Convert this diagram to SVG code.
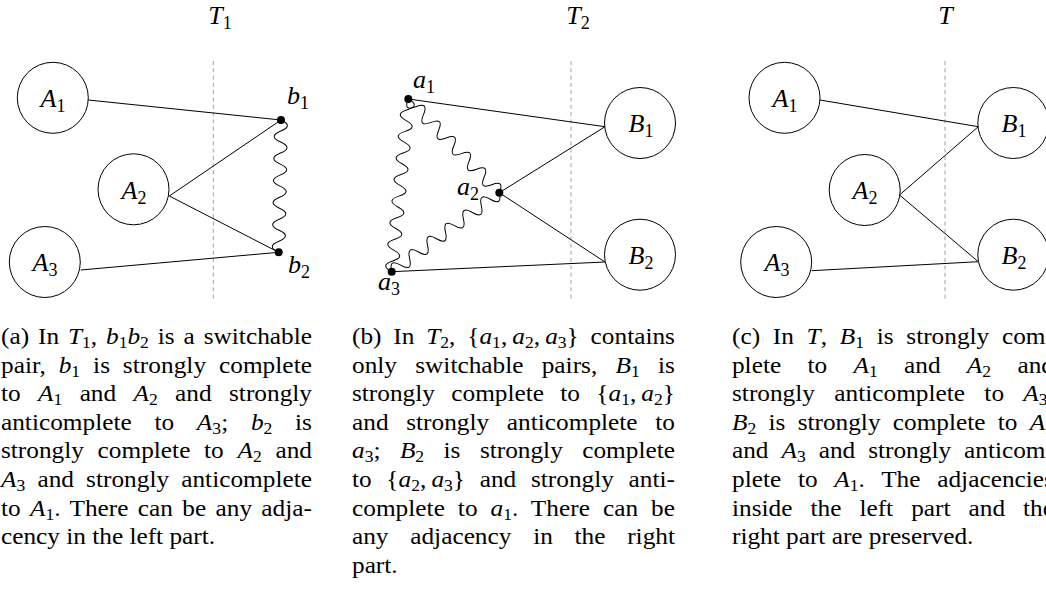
<svg xmlns="http://www.w3.org/2000/svg" width="1046" height="590" viewBox="0 0 1046 590">
<style>
.cap{font-family:"Liberation Serif",serif;font-size:23px;fill:#000}
.i{font-style:italic}
.s{font-size:16px;font-style:normal}
.lbl{font-family:"Liberation Serif",serif;font-size:26px;fill:#000}
.lbl .s{font-size:18px}
.mid{text-anchor:middle}
.node{fill:#fff;stroke:#000;stroke-width:1}
.e{stroke:#000;stroke-width:1;fill:none}
.dash{stroke:#a0a0a0;stroke-width:1;stroke-dasharray:4 3.3;fill:none}
.dot{fill:#000}
</style>
<rect width="1046" height="590" fill="#fff"/>

<!-- titles -->
<text class="lbl mid" x="220" y="24"><tspan class="i">T</tspan><tspan class="s" dy="5">1</tspan></text>
<text class="lbl mid" x="578" y="24"><tspan class="i">T</tspan><tspan class="s" dy="5">2</tspan></text>
<text class="lbl mid" x="945.5" y="24"><tspan class="i">T</tspan></text>

<!-- dashed separators -->
<g id="separators">
<line class="dash" x1="213.3" y1="61" x2="213.3" y2="300"/>
<line class="dash" x1="571" y1="61" x2="571" y2="300"/>
<line class="dash" x1="945" y1="61" x2="945" y2="300"/>
</g>

<g id="connectors">
<!-- (a) -->
<line class="e" x1="88.3" y1="100" x2="281" y2="120"/>
<line class="e" x1="169.3" y1="196" x2="281" y2="120"/>
<line class="e" x1="169.3" y1="196" x2="278.7" y2="252.3"/>
<line class="e" x1="80.7" y1="270" x2="278.7" y2="252.3"/>
<path class="e" transform="translate(281,120) rotate(91)" d="M0,0 Q5.51,-13 11.03,0 T22.05,0 T33.08,0 T44.1,0 T55.13,0 T66.15,0 T77.18,0 T88.2,0 T99.23,0 T110.25,0 T121.28,0 T132.3,0"/>
<!-- (b) -->
<line class="e" x1="408.3" y1="99" x2="605" y2="126.7"/>
<line class="e" x1="499.3" y1="192.7" x2="605" y2="126.7"/>
<line class="e" x1="499.3" y1="192.7" x2="605" y2="262"/>
<line class="e" x1="391.7" y1="271.7" x2="605" y2="262"/>
<path class="e" transform="translate(408.3,99) rotate(95.5)" d="M0,0 Q5.42,-13 10.84,0 T21.69,0 T32.53,0 T43.38,0 T54.22,0 T65.06,0 T75.91,0 T86.75,0 T97.59,0 T108.44,0 T119.28,0 T130.13,0 T140.97,0 T151.81,0 T162.66,0 T173.5,0"/>
<path class="e" transform="translate(408.3,99) rotate(45.8)" d="M0,0 Q5.44,13 10.88,0 T21.77,0 T32.65,0 T43.53,0 T54.42,0 T65.3,0 T76.18,0 T87.07,0 T97.95,0 T108.83,0 T119.72,0 T130.6,0"/>
<path class="e" transform="translate(499.3,192.7) rotate(143.7)" d="M0,0 Q5.56,-13 11.13,0 T22.25,0 T33.38,0 T44.5,0 T55.63,0 T66.75,0 T77.88,0 T89,0 T100.13,0 T111.25,0 T122.38,0 T133.5,0"/>
<!-- (c) -->
<line class="e" x1="820" y1="100" x2="978.3" y2="126.7"/>
<line class="e" x1="899.5" y1="195" x2="978.3" y2="126.7"/>
<line class="e" x1="899.5" y1="195" x2="978.3" y2="261.7"/>
<line class="e" x1="811.7" y1="270.7" x2="978.3" y2="261.7"/>
</g>

<!-- (a) nodes -->
<g id="a-A1"><circle class="node" cx="52.8" cy="97.8" r="35.5"/><text class="lbl mid" x="53" y="107"><tspan class="i">A</tspan><tspan class="s" dy="5">1</tspan></text></g>
<g id="a-A2"><circle class="node" cx="133.5" cy="189.3" r="35.5"/><text class="lbl mid" x="134" y="198.5"><tspan class="i">A</tspan><tspan class="s" dy="5">2</tspan></text></g>
<g id="a-A3"><circle class="node" cx="44.8" cy="262" r="35.5"/><text class="lbl mid" x="45" y="271"><tspan class="i">A</tspan><tspan class="s" dy="5">3</tspan></text></g>
<g id="a-b1"><circle class="dot" cx="281" cy="120" r="4"/><text class="lbl" x="287" y="104"><tspan class="i">b</tspan><tspan class="s" dy="5">1</tspan></text></g>
<g id="a-b2"><circle class="dot" cx="278.7" cy="252.3" r="4"/><text class="lbl" x="288" y="273"><tspan class="i">b</tspan><tspan class="s" dy="5">2</tspan></text></g>

<!-- (b) nodes -->
<g id="b-a1"><circle class="dot" cx="408.3" cy="99" r="4"/><text class="lbl" x="413" y="88"><tspan class="i">a</tspan><tspan class="s" dy="5">1</tspan></text></g>
<g id="b-a2"><circle class="dot" cx="499.3" cy="192.7" r="4"/><text class="lbl" x="457" y="195"><tspan class="i">a</tspan><tspan class="s" dy="5">2</tspan></text></g>
<g id="b-a3"><circle class="dot" cx="391.7" cy="271.7" r="4"/><text class="lbl" x="378" y="290"><tspan class="i">a</tspan><tspan class="s" dy="5">3</tspan></text></g>
<g id="b-B1"><circle class="node" cx="640" cy="123" r="35.5"/><text class="lbl mid" x="641" y="132"><tspan class="i">B</tspan><tspan class="s" dy="5">1</tspan></text></g>
<g id="b-B2"><circle class="node" cx="640" cy="254.7" r="35.5"/><text class="lbl mid" x="641" y="264"><tspan class="i">B</tspan><tspan class="s" dy="5">2</tspan></text></g>

<!-- (c) nodes -->
<g id="c-A1"><circle class="node" cx="784.5" cy="97.8" r="35.5"/><text class="lbl mid" x="785" y="107"><tspan class="i">A</tspan><tspan class="s" dy="5">1</tspan></text></g>
<g id="c-A2"><circle class="node" cx="864.7" cy="190" r="35.5"/><text class="lbl mid" x="865" y="199"><tspan class="i">A</tspan><tspan class="s" dy="5">2</tspan></text></g>
<g id="c-A3"><circle class="node" cx="776.2" cy="262" r="35.5"/><text class="lbl mid" x="777" y="271"><tspan class="i">A</tspan><tspan class="s" dy="5">3</tspan></text></g>
<g id="c-B1"><circle class="node" cx="1013.3" cy="123" r="35.5"/><text class="lbl mid" x="1014" y="132"><tspan class="i">B</tspan><tspan class="s" dy="5">1</tspan></text></g>
<g id="c-B2"><circle class="node" cx="1013.3" cy="254.7" r="35.5"/><text class="lbl mid" x="1014" y="264"><tspan class="i">B</tspan><tspan class="s" dy="5">2</tspan></text></g>

<!-- caption (a) -->
<g id="caption-a" class="cap" transform="scale(1.1,1)">
<text x="0.9" y="344" textLength="282.7" lengthAdjust="spacing" style="word-spacing:2.3px">(a) In <tspan class="i">T</tspan><tspan class="s" dy="4">1</tspan><tspan dy="-4">, </tspan><tspan class="i">b</tspan><tspan class="s" dy="4">1</tspan><tspan class="i" dy="-4">b</tspan><tspan class="s" dy="4">2</tspan><tspan dy="-4"> is a switchable</tspan></text>
<text x="0.9" y="372.6" textLength="282.7" lengthAdjust="spacing" style="word-spacing:5.9px">pair, <tspan class="i">b</tspan><tspan class="s" dy="4">1</tspan><tspan dy="-4"> is strongly complete</tspan></text>
<text x="0.9" y="401.2" textLength="282.7" lengthAdjust="spacing" style="word-spacing:10px">to <tspan class="i">A</tspan><tspan class="s" dy="4">1</tspan><tspan dy="-4"> and </tspan><tspan class="i">A</tspan><tspan class="s" dy="4">2</tspan><tspan dy="-4"> and strongly</tspan></text>
<text x="0.9" y="429.8" textLength="282.7" lengthAdjust="spacing" style="word-spacing:14.9px">anticomplete to <tspan class="i">A</tspan><tspan class="s" dy="4">3</tspan><tspan dy="-4">; </tspan><tspan class="i">b</tspan><tspan class="s" dy="4">2</tspan><tspan dy="-4"> is</tspan></text>
<text x="0.9" y="458.4" textLength="282.7" lengthAdjust="spacing" style="word-spacing:6.7px">strongly complete to <tspan class="i">A</tspan><tspan class="s" dy="4">2</tspan><tspan dy="-4"> and</tspan></text>
<text x="0.9" y="487" textLength="282.7" lengthAdjust="spacing" style="word-spacing:5.3px"><tspan class="i">A</tspan><tspan class="s" dy="4">3</tspan><tspan dy="-4"> and strongly anticomplete</tspan></text>
<text x="0.9" y="515.6" textLength="282.7" lengthAdjust="spacing" style="word-spacing:2.7px">to <tspan class="i">A</tspan><tspan class="s" dy="4">1</tspan><tspan dy="-4">. There can be any adja-</tspan></text>
<text x="0.9" y="544.2">cency in the left part.</text>
</g>

<!-- caption (b) -->
<g id="caption-b" class="cap" transform="scale(1.1,1)">
<text x="320" y="344" textLength="293.6" lengthAdjust="spacing" style="word-spacing:5px">(b) In <tspan class="i">T</tspan><tspan class="s" dy="4">2</tspan><tspan dy="-4">, {</tspan><tspan class="i">a</tspan><tspan class="s" dy="4">1</tspan><tspan dy="-4">,&#8201;</tspan><tspan class="i">a</tspan><tspan class="s" dy="4">2</tspan><tspan dy="-4">,&#8201;</tspan><tspan class="i">a</tspan><tspan class="s" dy="4">3</tspan><tspan dy="-4">} contains</tspan></text>
<text x="320" y="372.6" textLength="293.6" lengthAdjust="spacing" style="word-spacing:10.9px">only switchable pairs, <tspan class="i">B</tspan><tspan class="s" dy="4">1</tspan><tspan dy="-4"> is</tspan></text>
<text x="320" y="401.2" textLength="293.6" lengthAdjust="spacing" style="word-spacing:9.1px">strongly complete to {<tspan class="i">a</tspan><tspan class="s" dy="4">1</tspan><tspan dy="-4">,&#8201;</tspan><tspan class="i">a</tspan><tspan class="s" dy="4">2</tspan><tspan dy="-4">}</tspan></text>
<text x="320" y="429.8" textLength="293.6" lengthAdjust="spacing" style="word-spacing:10.3px">and strongly anticomplete to</text>
<text x="320" y="458.4" textLength="293.6" lengthAdjust="spacing" style="word-spacing:11.9px"><tspan class="i">a</tspan><tspan class="s" dy="4">3</tspan><tspan dy="-4">; </tspan><tspan class="i">B</tspan><tspan class="s" dy="4">2</tspan><tspan dy="-4"> is strongly complete</tspan></text>
<text x="320" y="487" textLength="293.6" lengthAdjust="spacing" style="word-spacing:7.6px">to {<tspan class="i">a</tspan><tspan class="s" dy="4">2</tspan><tspan dy="-4">,&#8201;</tspan><tspan class="i">a</tspan><tspan class="s" dy="4">3</tspan><tspan dy="-4">} and strongly anti-</tspan></text>
<text x="320" y="515.6" textLength="293.6" lengthAdjust="spacing" style="word-spacing:6px">complete to <tspan class="i">a</tspan><tspan class="s" dy="4">1</tspan><tspan dy="-4">. There can be</tspan></text>
<text x="320" y="544.2" textLength="293.6" lengthAdjust="spacing" style="word-spacing:14px">any adjacency in the right</text>
<text x="320" y="572.8">part.</text>
</g>

<!-- caption (c) -->
<g id="caption-c" class="cap" transform="scale(1.1,1)">
<text x="665.45" y="344" textLength="292.7" lengthAdjust="spacing" style="word-spacing:5.8px">(c) In <tspan class="i">T</tspan>, <tspan class="i">B</tspan><tspan class="s" dy="4">1</tspan><tspan dy="-4"> is strongly com-</tspan></text>
<text x="665.45" y="372.6" textLength="292.7" lengthAdjust="spacing" style="word-spacing:18.2px">plete to <tspan class="i">A</tspan><tspan class="s" dy="4">1</tspan><tspan dy="-4"> and </tspan><tspan class="i">A</tspan><tspan class="s" dy="4">2</tspan><tspan dy="-4"> and</tspan></text>
<text x="665.45" y="401.2" textLength="292.7" lengthAdjust="spacing" style="word-spacing:11.8px">strongly anticomplete to <tspan class="i">A</tspan><tspan class="s" dy="4">3</tspan><tspan dy="-4">,</tspan></text>
<text x="665.45" y="429.8" textLength="292.7" lengthAdjust="spacing" style="word-spacing:5.4px"><tspan class="i">B</tspan><tspan class="s" dy="4">2</tspan><tspan dy="-4"> is strongly complete to </tspan><tspan class="i">A</tspan><tspan class="s" dy="4">2</tspan></text>
<text x="665.45" y="458.4" textLength="292.7" lengthAdjust="spacing" style="word-spacing:6px">and <tspan class="i">A</tspan><tspan class="s" dy="4">3</tspan><tspan dy="-4"> and strongly anticom-</tspan></text>
<text x="665.45" y="487" textLength="292.7" lengthAdjust="spacing" style="word-spacing:9.4px">plete to <tspan class="i">A</tspan><tspan class="s" dy="4">1</tspan><tspan dy="-4">.  The adjacencies</tspan></text>
<text x="665.45" y="515.6" textLength="292.7" lengthAdjust="spacing" style="word-spacing:10.6px">inside the left part and the</text>
<text x="665.45" y="544.2">right part are preserved.</text>
</g>
</svg>
